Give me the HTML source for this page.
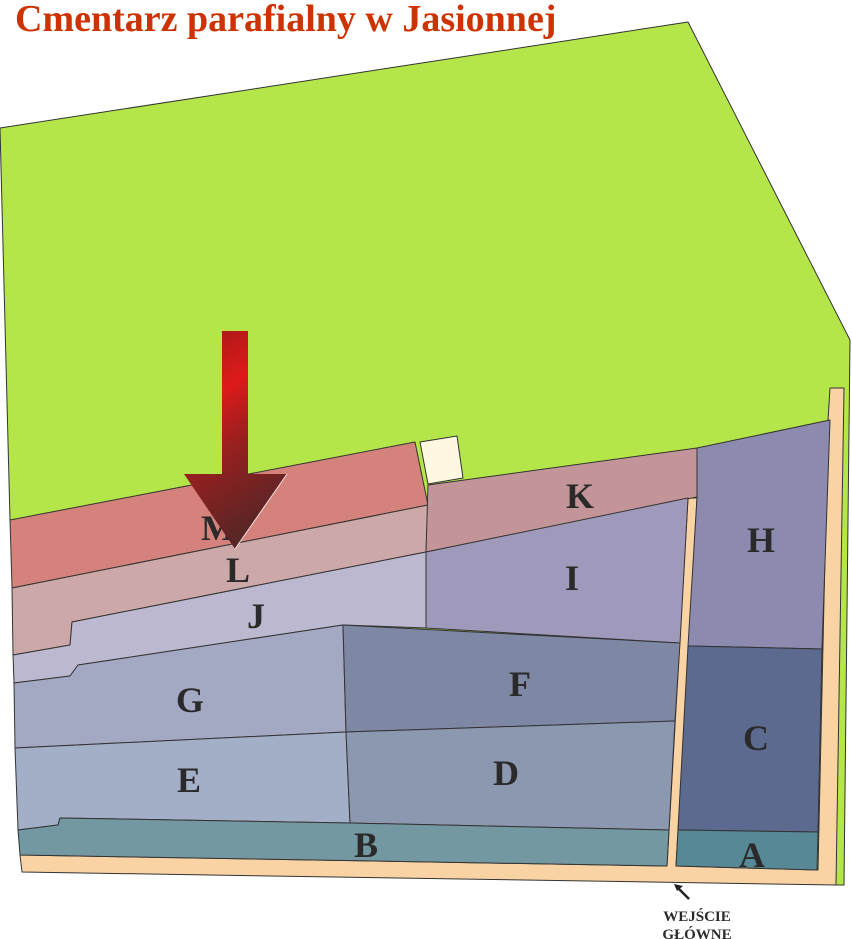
<!DOCTYPE html>
<html><head><meta charset="utf-8"><style>
html,body{margin:0;padding:0;background:#fff;}
svg{display:block}
</style></head><body>
<svg width="852" height="939" viewBox="0 0 852 939" xmlns="http://www.w3.org/2000/svg">
<defs>
<linearGradient id="ar" x1="0" y1="0" x2="0.3" y2="1">
<stop offset="0" stop-color="#a01818"/><stop offset="0.35" stop-color="#dd1a1a"/><stop offset="0.6" stop-color="#9a1f1f"/><stop offset="1" stop-color="#5a2525"/>
</linearGradient>
</defs>
<g stroke="#333" stroke-width="1" stroke-linejoin="round">
<polygon points="0,128 688,22 850,340 844,885 836,885 10,520" fill="#b4e649"/>
<polygon points="830,388 844,388 836,885 22,872 20,855 667,866 688,498 697,498 676,866 818,870 828,420" fill="#fad3a4"/>
<polygon points="10,520 415,442 428,505 12,588" fill="#d5827d"/>
<polygon points="420,442 457,436 463,478 428,484" fill="#fdf8df"/>
<polygon points="12,588 428,505 426,552 72,622 70,645 13,655" fill="#cda8a8"/>
<polygon points="428,485 697,448 697,497 426,552" fill="#c39598"/>
<polygon points="13,655 70,645 72,622 426,552 426,628 343,625 78,665 70,676 14,683" fill="#bbb8cf"/>
<polygon points="426,552 688,498 680,643 426,628" fill="#9f9abb"/>
<polygon points="697,448 830,420 822,649 688,646 697,498" fill="#8c8aae"/>
<polygon points="14,683 70,676 78,665 343,625 346,732 15,748" fill="#a4a9c3"/>
<polygon points="343,625 680,643 675,721 346,732" fill="#7e88a5"/>
<polygon points="15,748 346,732 350,823 60,818 58,825 18,830" fill="#a3afc6"/>
<polygon points="346,732 675,721 669,830 350,823" fill="#8c98b0"/>
<polygon points="688,646 822,649 818,832 678,830" fill="#5c6a8f"/>
<polygon points="18,830 58,825 60,818 350,823 669,830 667,866 20,855" fill="#7498a2"/>
<polygon points="678,830 818,832 817,870 676,866" fill="#578895"/>
</g>
<g font-family="Liberation Serif, serif" font-weight="bold" font-size="36" fill="#2a2a2a" text-anchor="middle">
<text x="218" y="540">M</text>
<text x="238" y="582">L</text>
<text x="580" y="508">K</text>
<text x="256" y="628">J</text>
<text x="572" y="590">I</text>
<text x="761" y="552">H</text>
<text x="190" y="712">G</text>
<text x="520" y="696">F</text>
<text x="189" y="792">E</text>
<text x="506" y="785">D</text>
<text x="756" y="750">C</text>
<text x="366" y="857">B</text>
<text x="752" y="867">A</text>
</g>
<polygon points="222,331 248,331 248,474 287,474 235,549 184,474 222,474" fill="url(#ar)"/>
<polyline points="235,549 287,474" stroke="#f0e0e0" stroke-width="1" fill="none"/>
<g stroke="#222" stroke-width="2.5"><line x1="676" y1="886" x2="689" y2="899"/></g>
<polygon points="674,884 683,886 677,891" fill="#222"/>
<g font-family="Liberation Serif, serif" font-weight="bold" font-size="15" fill="#2a2a2a" text-anchor="middle">
<text x="697" y="921">WEJŚCIE</text>
<text x="697" y="939">GŁÓWNE</text>
</g>
<text x="15" y="31" font-family="Liberation Serif, serif" font-weight="bold" font-size="38" fill="#cc3300">Cmentarz parafialny w Jasionnej</text>
</svg>
</body></html>
